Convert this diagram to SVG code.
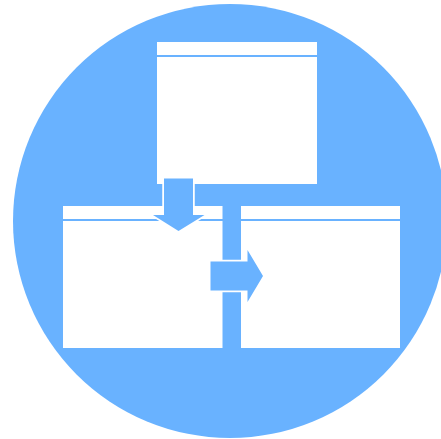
<svg xmlns="http://www.w3.org/2000/svg" width="441" height="439" viewBox="0 0 441 439">
<style>
.bg{fill:#69b2ff}
.win{fill:#fff}
.arrow{fill:#69b2ff;stroke:#fff;stroke-width:3.500;stroke-linejoin:miter;paint-order:stroke}
</style>
<rect width="441" height="439" fill="#fff"/>
<circle class="bg" cx="230" cy="221" r="217"/>
<g id="window-top">
<rect class="win" x="157" y="42" width="160" height="13"/>
<rect class="win" x="157" y="57" width="160" height="127"/>
</g>
<g id="window-left">
<rect class="win" x="63" y="206" width="159.500" height="13"/>
<rect class="win" x="63" y="221" width="159.500" height="127"/>
</g>
<g id="window-right">
<rect class="win" x="241" y="206" width="159" height="13"/>
<rect class="win" x="241" y="221" width="159" height="127"/>
</g>
<g id="connectors">
<path class="arrow" d="M164 178.500H193V215H204.500L178.500 231L153 215H164Z"/>
<path class="arrow" d="M210.500 261.500H247.500V250L263 276L247.500 302V290.500H210.500Z"/>
</g>
</svg>
